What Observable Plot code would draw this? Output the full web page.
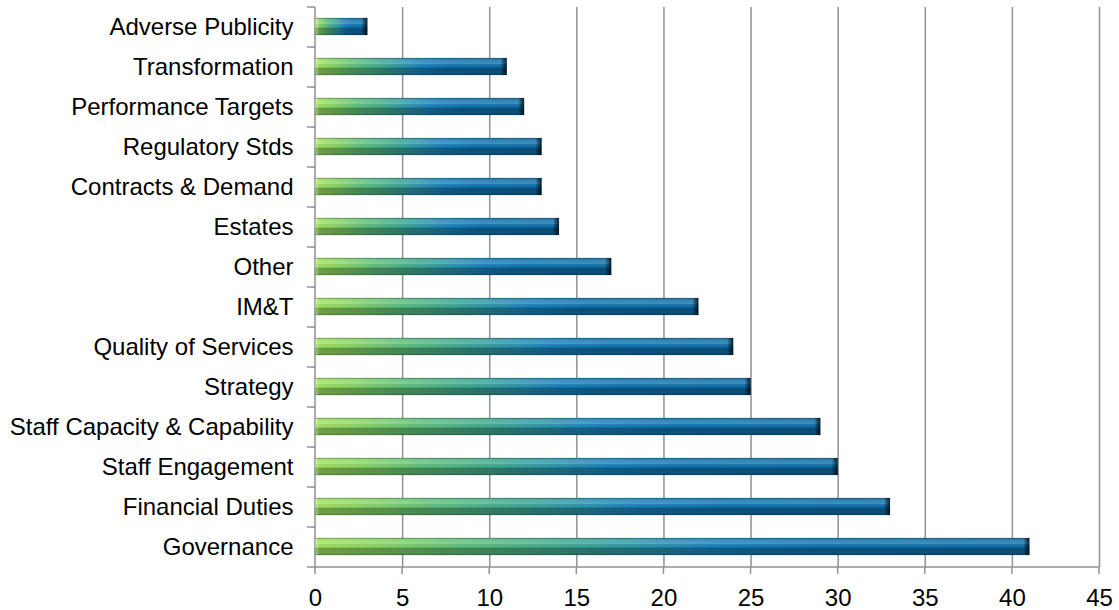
<!DOCTYPE html>
<html>
<head>
<meta charset="utf-8">
<script src="https://cdn.jsdelivr.net/npm/d3@7"></script>
<script src="https://cdn.jsdelivr.net/npm/@observablehq/plot@0.6"></script>
<style>
  html, body { margin: 0; padding: 0; background: #fff; }
</style>
</head>
<body>
<div id="chart"></div>
<script>
// Risk categories, listed top to bottom, with their counts
const categories = [
  "Adverse Publicity",
  "Transformation",
  "Performance Targets",
  "Regulatory Stds",
  "Contracts & Demand",
  "Estates",
  "Other",
  "IM&T",
  "Quality of Services",
  "Strategy",
  "Staff Capacity & Capability",
  "Staff Engagement",
  "Financial Duties",
  "Governance"
];
const counts = [3, 11, 12, 13, 13, 14, 17, 22, 24, 25, 29, 30, 33, 41];
const xTicks = [0, 5, 10, 15, 20, 25, 30, 35, 40, 45];

const data = categories.map((name, i) => ({name, value: counts[i]}));

const lineColor = "#8e9198";
const capDepth = 0.34; // depth of the bevelled bar ends, in x units

// Axis lines, category separator ticks and bottom tick marks
function frame(index, scales, values, dims) {
  const {marginTop, marginBottom, height} = dims;
  const bottom = height - marginBottom;
  const x0 = scales.x(0);
  const step = (bottom - marginTop) / categories.length;
  const g = d3.create("svg:g")
    .attr("stroke", lineColor)
    .attr("stroke-width", 1.5)
    .attr("fill", "none");
  g.append("line").attr("x1", x0).attr("x2", x0).attr("y1", marginTop).attr("y2", bottom);
  for (let i = 0; i <= categories.length; i++) {
    const y = marginTop + i * step;
    g.append("line").attr("x1", x0 - 8).attr("x2", x0).attr("y1", y).attr("y2", y);
  }
  g.append("line")
    .attr("x1", x0).attr("x2", scales.x(xTicks[xTicks.length - 1]))
    .attr("y1", bottom).attr("y2", bottom);
  for (const t of xTicks) {
    const x = scales.x(t);
    g.append("line").attr("x1", x).attr("x2", x).attr("y1", bottom).attr("y2", bottom + 7);
  }
  return g.node();
}

const svg = Plot.plot({
  width: 1119,
  height: 610,
  marginLeft: 315,
  marginRight: 20,
  marginTop: 7,
  marginBottom: 43,
  style: {
    fontFamily: "'Liberation Sans', Arial, sans-serif",
    fontSize: "24px",
    color: "#000",
    background: "#fff",
    overflow: "visible"
  },
  x: {
    domain: [0, 45],
    ticks: xTicks,
    tickSize: 0,
    tickPadding: 21,
    label: null
  },
  y: {
    domain: categories,
    paddingInner: 0.57,
    paddingOuter: 0.285,
    tickSize: 0,
    tickPadding: 22,
    label: null
  },
  marks: [
    Plot.ruleX(xTicks.filter(t => t > 0), {stroke: lineColor, strokeWidth: 1.5}),
    frame,
    Plot.barX(data, {x: "value", y: "name", fill: "url(#barFill)"}),
    Plot.barX(data, {x: "value", y: "name", fill: "url(#barShade)"}),
    Plot.barX(data, {x1: 0, x2: d => capDepth * 0.8, y: "name", fill: "url(#capLeft)"}),
    Plot.barX(data, {x1: d => d.value - capDepth, x2: "value", y: "name", fill: "url(#capRight)"}),
    Plot.barX(data, {x: "value", y: "name", fill: "none", stroke: "#000", strokeOpacity: 0.18, strokeWidth: 0.8})
  ]
});

// Gradients for the bevelled green-to-blue bars
const defs = d3.select(svg).insert("defs", ":first-child");

const fill = defs.append("linearGradient").attr("id", "barFill")
  .attr("x1", 0).attr("x2", 1).attr("y1", 0).attr("y2", 0);
[[0, "#a2e25c"], [0.1, "#84d366"], [0.2, "#5fc07a"], [0.36, "#3aa692"], [0.48, "#2690b0"],
 [0.56, "#1780bc"], [0.7, "#0d74b1"], [1, "#0d6ea8"]]
  .forEach(([o, c]) => fill.append("stop").attr("offset", o).attr("stop-color", c));

const shade = defs.append("linearGradient").attr("id", "barShade")
  .attr("x1", 0).attr("x2", 0).attr("y1", 0).attr("y2", 1);
[[0, "#000", 0.3], [0.1, "#fff", 0.12], [0.32, "#fff", 0.22], [0.5, "#000", 0.0], [0.62, "#000", 0.32], [0.85, "#000", 0.28], [1, "#000", 0.4]]
  .forEach(([o, c, a]) => shade.append("stop").attr("offset", o).attr("stop-color", c).attr("stop-opacity", a));

const capR = defs.append("linearGradient").attr("id", "capRight")
  .attr("x1", 0).attr("x2", 1).attr("y1", 0).attr("y2", 0);
[[0, "#000", 0.0], [0.4, "#000", 0.35], [1, "#000", 0.75]]
  .forEach(([o, c, a]) => capR.append("stop").attr("offset", o).attr("stop-color", c).attr("stop-opacity", a));

const capL = defs.append("linearGradient").attr("id", "capLeft")
  .attr("x1", 0).attr("x2", 1).attr("y1", 0).attr("y2", 0);
[[0, "#fff", 0.35], [1, "#fff", 0.0]]
  .forEach(([o, c, a]) => capL.append("stop").attr("offset", o).attr("stop-color", c).attr("stop-opacity", a));

document.getElementById("chart").appendChild(svg);
</script>
</body>
</html>
